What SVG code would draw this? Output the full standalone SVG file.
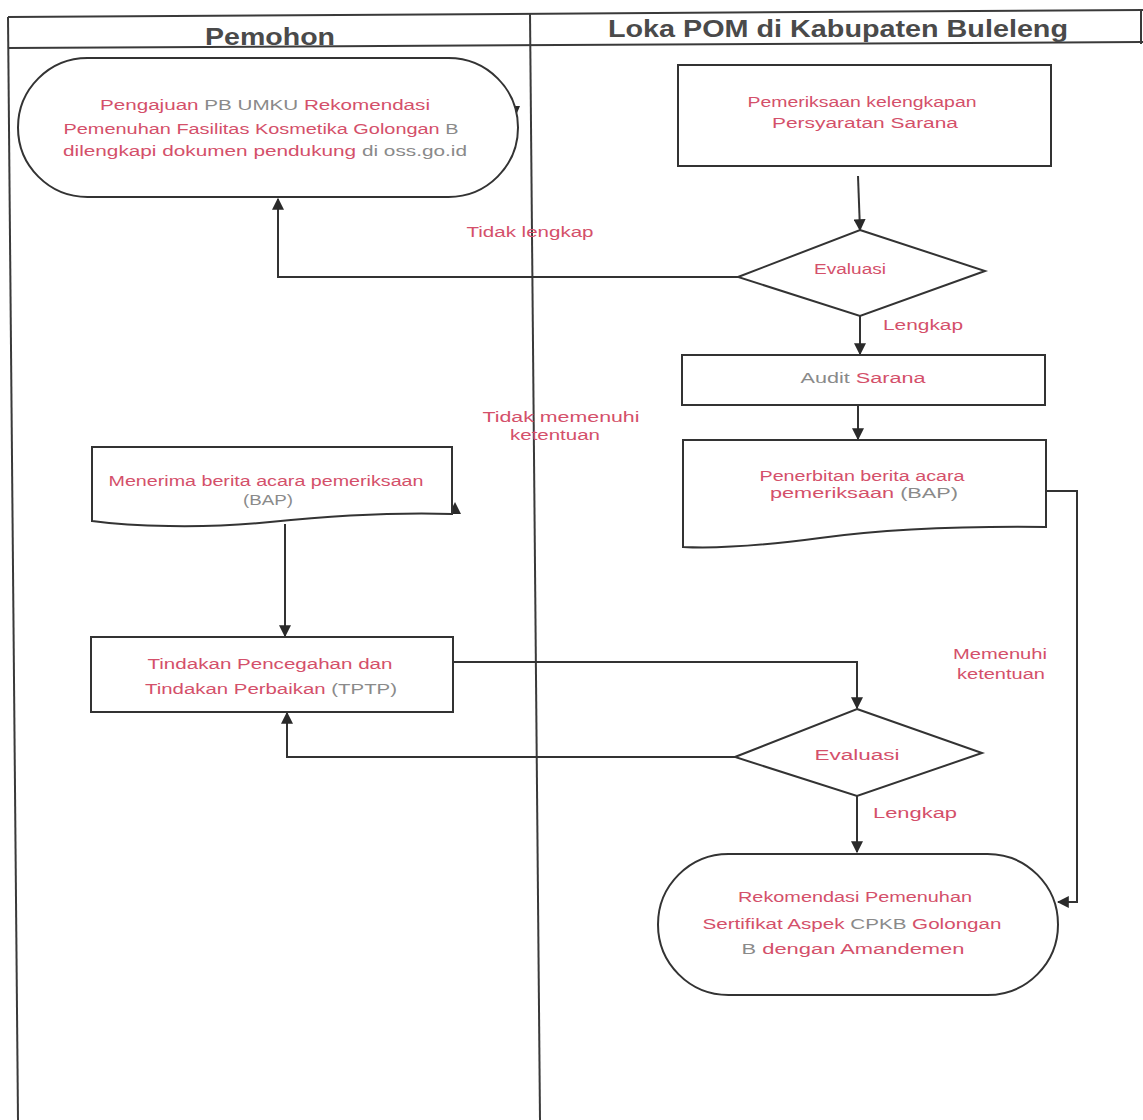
<svg xmlns="http://www.w3.org/2000/svg" width="1143" height="1120" viewBox="0 0 1143 1120">
<defs>
<marker id="arr" viewBox="0 0 10 10" refX="9" refY="5" markerWidth="6" markerHeight="6" orient="auto-start-reverse">
<path d="M0,0 L10,5 L0,10 Z" fill="#2a2a2a"/>
</marker>
<style>
.lane{stroke:#3a3a3a;stroke-width:2;fill:none}
.shape{fill:#fff;stroke:#333;stroke-width:2}
.conn{fill:none;stroke:#333;stroke-width:2;marker-end:url(#arr)}
.t{font-family:"Liberation Sans",Arial,sans-serif;font-size:14px;fill:#d4506a;text-anchor:middle}
.g{fill:#8a8a8a}
.hd{font-family:"Liberation Sans",Arial,sans-serif;font-weight:bold;fill:#4a4a4a;text-anchor:middle}
</style>
</defs>
<rect width="1143" height="1120" fill="#fff"/>
<g id="lanes">
<line class="lane" x1="8" y1="17" x2="1143" y2="10"/>
<line class="lane" x1="8" y1="48" x2="1143" y2="42"/>
<line class="lane" x1="8" y1="17" x2="18" y2="1120"/>
<line class="lane" x1="530" y1="13" x2="540" y2="1120"/>
<line class="lane" x1="1141" y1="10" x2="1141" y2="44"/>
<text class="hd" x="270" y="45" font-size="24" textLength="130" lengthAdjust="spacingAndGlyphs">Pemohon</text>
<text class="hd" x="838" y="37" font-size="24" textLength="460" lengthAdjust="spacingAndGlyphs">Loka POM di Kabupaten Buleleng</text>
</g>
<g id="connectors">
<path class="conn" d="M858,176 L860,230"/>
<path class="conn" d="M738,277 H278 V199"/>
<path class="conn" d="M860,316 V354"/>
<path class="conn" d="M858,406 V439"/>
<path class="conn" d="M1046,491 H1077 V902 H1058"/>
<path class="conn" d="M285,524 V636"/>
<path class="conn" d="M453,662 H857 V708"/>
<path class="conn" d="M735,757 H287 V713"/>
<path class="conn" d="M857,796 V852"/>
<polygon points="510,106 520,106 515,118" fill="#2a2a2a"/>
<polygon points="449,514 461,514 455,502" fill="#2a2a2a"/>
<text class="t" x="530" y="237" textLength="127" lengthAdjust="spacingAndGlyphs">Tidak lengkap</text>
<text class="t" x="923" y="330" textLength="80" lengthAdjust="spacingAndGlyphs">Lengkap</text>
<text class="t" x="561" y="422" textLength="157" lengthAdjust="spacingAndGlyphs">Tidak memenuhi</text>
<text class="t" x="555" y="440" textLength="90" lengthAdjust="spacingAndGlyphs">ketentuan</text>
<text class="t" x="1000" y="659" textLength="94" lengthAdjust="spacingAndGlyphs">Memenuhi</text>
<text class="t" x="1001" y="679" textLength="88" lengthAdjust="spacingAndGlyphs">ketentuan</text>
<text class="t" x="915" y="818" textLength="84" lengthAdjust="spacingAndGlyphs">Lengkap</text>
</g>
<g id="n1">
<rect class="shape" x="18" y="58" width="500" height="139" rx="69.5" ry="69.5"/>
<text class="t" x="265" y="110" textLength="330" lengthAdjust="spacingAndGlyphs">Pengajuan <tspan class="g">PB UMKU</tspan> Rekomendasi</text>
<text class="t" x="261" y="134" textLength="395" lengthAdjust="spacingAndGlyphs">Pemenuhan Fasilitas Kosmetika Golongan <tspan class="g">B</tspan></text>
<text class="t" x="265" y="156" textLength="404" lengthAdjust="spacingAndGlyphs">dilengkapi dokumen pendukung <tspan class="g">di oss.go.id</tspan></text>
</g>
<g id="n2">
<rect class="shape" x="678" y="65" width="373" height="101"/>
<text class="t" x="862" y="107" textLength="229" lengthAdjust="spacingAndGlyphs">Pemeriksaan kelengkapan</text>
<text class="t" x="865" y="128" textLength="186" lengthAdjust="spacingAndGlyphs">Persyaratan Sarana</text>
</g>
<g id="n3">
<polygon class="shape" points="860,230 985,271 860,316 738,277"/>
<text class="t" x="850" y="274" textLength="72" lengthAdjust="spacingAndGlyphs">Evaluasi</text>
</g>
<g id="n4">
<rect class="shape" x="682" y="355" width="363" height="50"/>
<text class="t" x="863" y="383" textLength="125" lengthAdjust="spacingAndGlyphs"><tspan class="g">Audit</tspan> Sarana</text>
</g>
<g id="n5">
<path class="shape" d="M683,440 H1046 V527 C960,526 880,530 820,538 C760,546 720,549 683,547 Z"/>
<text class="t" x="862" y="481" textLength="205" lengthAdjust="spacingAndGlyphs">Penerbitan berita acara</text>
<text class="t" x="864" y="498" textLength="188" lengthAdjust="spacingAndGlyphs">pemeriksaan <tspan class="g">(BAP)</tspan></text>
</g>
<g id="n6">
<path class="shape" d="M92,447 H452 V514 C390,512 330,516 270,522 C200,529 130,526 92,521 Z"/>
<text class="t" x="266" y="486" textLength="315" lengthAdjust="spacingAndGlyphs">Menerima berita acara pemeriksaan</text>
<text class="t g" x="268" y="505" textLength="50" lengthAdjust="spacingAndGlyphs">(BAP)</text>
</g>
<g id="n7">
<rect class="shape" x="91" y="637" width="362" height="75"/>
<text class="t" x="270" y="669" textLength="245" lengthAdjust="spacingAndGlyphs">Tindakan Pencegahan dan</text>
<text class="t" x="271" y="694" textLength="252" lengthAdjust="spacingAndGlyphs">Tindakan Perbaikan <tspan class="g">(TPTP)</tspan></text>
</g>
<g id="n8">
<polygon class="shape" points="857,709 982,753 857,796 735,757"/>
<text class="t" x="857" y="760" textLength="85" lengthAdjust="spacingAndGlyphs">Evaluasi</text>
</g>
<g id="n9">
<rect class="shape" x="658" y="854" width="400" height="141" rx="70.5" ry="70.5"/>
<text class="t" x="855" y="902" textLength="234" lengthAdjust="spacingAndGlyphs">Rekomendasi Pemenuhan</text>
<text class="t" x="852" y="929" textLength="299" lengthAdjust="spacingAndGlyphs">Sertifikat Aspek <tspan class="g">CPKB</tspan> Golongan</text>
<text class="t" x="853" y="954" textLength="223" lengthAdjust="spacingAndGlyphs"><tspan class="g">B</tspan> dengan Amandemen</text>
</g>
</svg>
